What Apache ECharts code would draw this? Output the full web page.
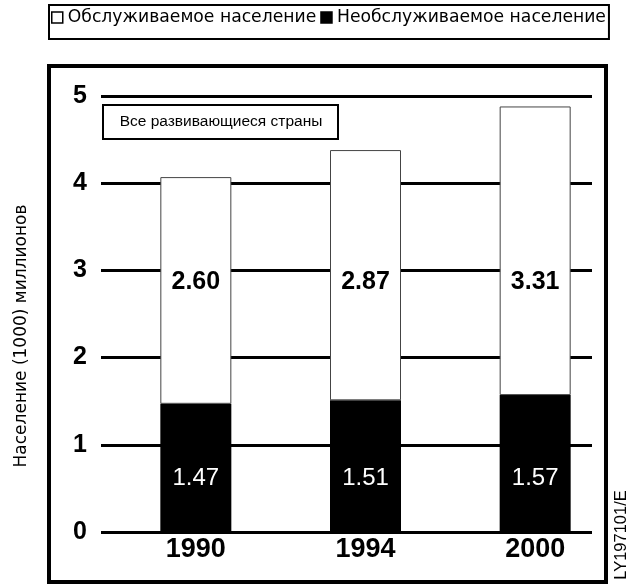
<!DOCTYPE html>
<html><head><meta charset="utf-8">
<script src="https://cdn.jsdelivr.net/npm/echarts@6/dist/echarts.min.js"></script>
<style>html,body{margin:0;padding:0;background:#fff}#c{width:632px;height:588px}</style>
</head><body><div id="c"></div>
<script>
const categories = ['1990', '1994', '2000'];
const served = [2.60, 2.87, 3.31];
const unserved = [1.47, 1.51, 1.57];
const yTicks = [0, 1, 2, 3, 4, 5];
const seriesNames = ['Обслуживаемое население', 'Необслуживаемое население'];
const yAxisTitle = 'Население (1000) миллионов';
const boxText = 'Все развивающиеся страны';
const codeText = 'LY197101/E';

const FONT = 'Liberation Sans, Arial, sans-serif';
const WIDE = 'DejaVu Sans, sans-serif';
const SERVED_LABEL_LEVEL = 2.86;   // vertical level (axis units) of the bold labels
const UNSERVED_LABEL_LEVEL = 0.62; // vertical level of the white labels

const chart = echarts.init(document.getElementById('c'));
function build(servedData, unservedData) {
  return {
    animation: false,
    backgroundColor: '#fff',
    legend: {
      data: seriesNames,
      left: 49, top: 5,
      borderColor: '#000', borderWidth: 2,
      padding: [4, 3, 13, 2],
      itemGap: 4, itemWidth: 11, itemHeight: 11,
      icon: 'rect',
      itemStyle: { borderColor: '#000', borderWidth: 1.5 },
      textStyle: { fontFamily: WIDE, fontSize: 17.2, color: '#000' }
    },
    grid: [
      { left: 101, right: 40, top: 96, bottom: 56 },
      { left: 111, right: 12, top: 96, bottom: 56 }
    ],
    xAxis: [
      { gridIndex: 0, type: 'category', data: categories, show: false },
      { gridIndex: 1, type: 'category', data: categories,
        axisLine: { show: false }, axisTick: { show: false },
        axisLabel: { fontFamily: FONT, fontWeight: 'bold', fontSize: 27, color: '#000', margin: 4 } }
    ],
    yAxis: [
      { gridIndex: 0, type: 'value', min: yTicks[0], max: yTicks[yTicks.length - 1], interval: 1,
        axisLine: { show: false }, axisTick: { show: false },
        axisLabel: { fontFamily: FONT, fontWeight: 'bold', fontSize: 25, color: '#000', margin: 14 },
        splitLine: { show: true, lineStyle: { color: '#000', width: 3 } } },
      { gridIndex: 1, type: 'value', min: yTicks[0], max: yTicks[yTicks.length - 1], interval: 1, show: false,
        splitLine: { show: false } }
    ],
    series: [
      { name: seriesNames[1], type: 'bar', stack: 'total', xAxisIndex: 1, yAxisIndex: 1,
        data: unservedData, barWidth: 71,
        itemStyle: { color: '#000', borderColor: '#000', borderWidth: 0 },
        label: { show: true, position: 'insideBottom', distance: 42, color: '#fff',
          fontFamily: FONT, fontSize: 24, formatter: p => p.value.toFixed(2) } },
      { name: seriesNames[0], type: 'bar', stack: 'total', xAxisIndex: 1, yAxisIndex: 1,
        data: servedData, barWidth: 71,
        itemStyle: { color: '#fff', borderColor: '#444', borderWidth: 1 },
        label: { show: true, position: 'insideBottom', distance: 107, color: '#000',
          fontFamily: FONT, fontWeight: 'bold', fontSize: 25, formatter: p => p.value.toFixed(2) } }
    ],
    graphic: [
      { type: 'rect', z: 100, shape: { x: 49, y: 66, width: 557, height: 516 },
        style: { fill: 'none', stroke: '#000', lineWidth: 4 } },
      { type: 'group', z: 100, children: [
        { type: 'rect', shape: { x: 103, y: 105, width: 235, height: 34 },
          style: { fill: '#fff', stroke: '#000', lineWidth: 2 } },
        { type: 'text', x: 221, y: 122, style: { text: boxText, fontFamily: FONT, fontSize: 15.5,
          fill: '#000', align: 'center', verticalAlign: 'middle' } }
      ] },
      { type: 'text', z: 100, x: 22, y: 336, rotation: Math.PI / 2,
        style: { text: yAxisTitle, fontFamily: WIDE, fontSize: 17, fill: '#000', align: 'center', verticalAlign: 'middle' } },
      { type: 'text', z: 100, x: 621, y: 535, rotation: Math.PI / 2,
        style: { text: codeText, fontFamily: FONT, fontSize: 16.5, fill: '#000', align: 'center', verticalAlign: 'middle' } }
    ]
  };
}
chart.setOption(build(served, unserved));
// second pass: align value labels on a common level using the axis scale
const px = v => chart.convertToPixel({ yAxisIndex: 1 }, v);
const servedItems = served.map((v, i) => ({
  value: v,
  label: { distance: px(unserved[i]) - px(SERVED_LABEL_LEVEL) - 12.5 }
}));
const unservedItems = unserved.map(v => ({
  value: v,
  label: { distance: px(0) - px(UNSERVED_LABEL_LEVEL) - 12 }
}));
chart.setOption(build(servedItems, unservedItems), true);
</script></body></html>
